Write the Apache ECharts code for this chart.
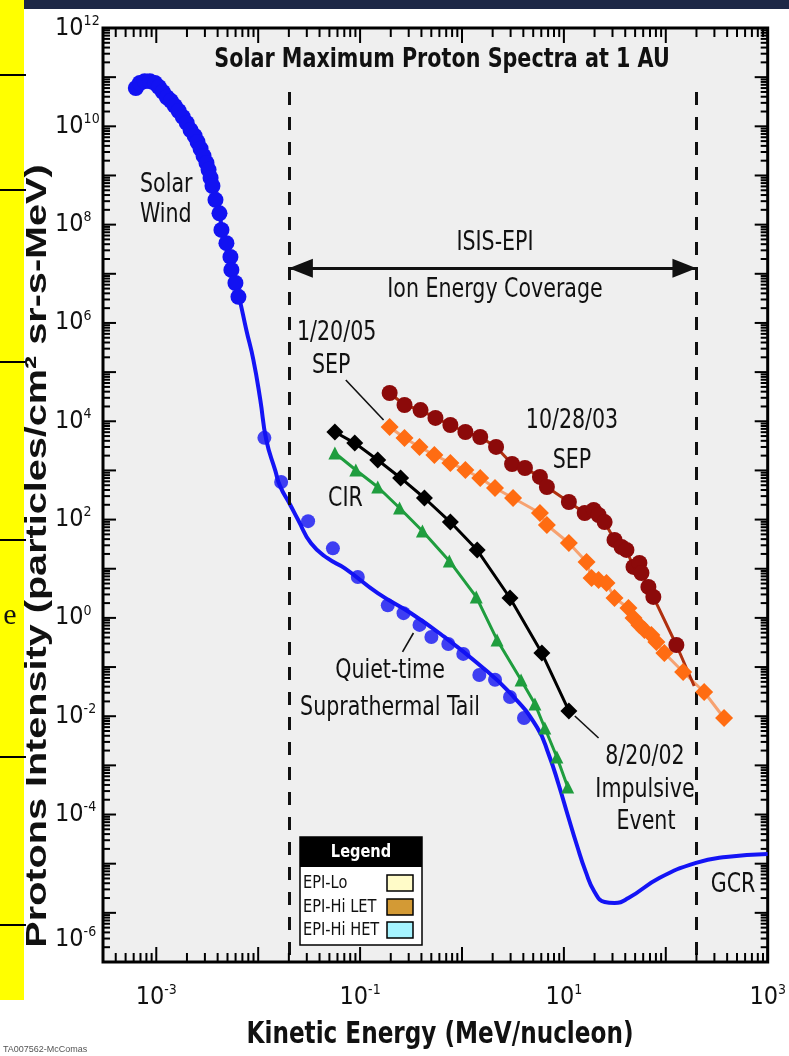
<!DOCTYPE html>
<html>
<head>
<meta charset="utf-8">
<script src="https://cdn.jsdelivr.net/npm/echarts@6/dist/echarts.min.js"></script>
<style>
  html, body { margin: 0; padding: 0; background: #ffffff; }
  #chart { width: 789px; height: 1056px; }
</style>
</head>
<body>
<div id="chart"></div>
<script>
// ---- Proton spectra at 1 AU (energy in MeV/nucleon, intensity in particles/cm2 sr s MeV) ----

// Solar wind bulk (blue dots)
const solarWindEnergy = [6.3e-4, 6.9e-4, 7.7e-4, 8.65e-4, 9.7e-4, 1.06e-3, 1.16e-3, 1.27e-3, 1.39e-3, 1.52e-3,
  1.66e-3, 1.82e-3, 1.99e-3, 2.17e-3, 2.38e-3, 2.54e-3, 2.72e-3, 2.91e-3, 3.11e-3, 3.26e-3,
  3.41e-3, 3.56e-3, 3.81e-3, 4.17e-3, 4.36e-3, 4.88e-3, 5.34e-3, 5.46e-3, 5.98e-3, 6.4e-3];
const solarWindFlux = [6.0e10, 7.6e10, 8.3e10, 8.3e10, 7.6e10, 6.3e10, 5.0e10, 3.9e10, 3.3e10, 2.6e10,
  2.05e10, 1.55e10, 1.17e10, 8.4e9, 6.4e9, 4.8e9, 3.5e9, 2.5e9, 1.8e9, 1.3e9,
  8.9e8, 6.1e8, 3.2e8, 1.7e8, 7.8e7, 4.2e7, 2.2e7, 1.2e7, 6.5e6, 3.4e6];

// Quiet-time suprathermal tail (blue dots)
const tailEnergy = [1.15e-2, 1.68e-2, 3.09e-2, 5.41e-2, 9.5e-2, 0.187, 0.267, 0.383, 0.501, 0.734, 1.03, 1.48, 2.11, 2.96, 4.06];
const tailFlux = [4.6e3, 5.8e2, 93, 26, 6.8, 1.8, 1.25, 0.72, 0.41, 0.295, 0.185, 0.069, 0.055, 0.0246, 0.0092];

// Quiet-time composite spectrum through to GCR (blue curve)
const quietEnergy = [6.3e-4, 8.07e-4, 1.13e-3, 1.55e-3, 2.07e-3, 2.6e-3, 3.11e-3, 3.56e-3, 3.99e-3, 4.46e-3,
  5.11e-3, 5.71e-3, 6.53e-3, 7.65e-3, 8.96e-3, 1.05e-2, 1.2e-2, 1.47e-2, 1.64e-2, 2.06e-2,
  2.47e-2, 3.3e-2, 4.83e-2, 7.09e-2, 0.149, 0.313, 0.672, 1.41, 2.96, 5.44,
  7.13, 8.91, 10.9, 13.4, 16.4, 20.0, 25.1, 31.4, 43.0, 86.3, 198, 390, 1000];
const quietFlux = [6.0e10, 8.3e10, 5.2e10, 2.6e10, 1.02e10, 4.6e9, 1.8e9, 6.1e8, 2.5e8, 7.8e7,
  2.4e7, 9.5e6, 3.2e6, 7.2e5, 1.8e5, 2.7e4, 4.2e3, 1.0e3, 4.8e2, 2.0e2,
  98, 33, 16.2, 10.2, 3.2, 1.26, 0.41, 0.121, 0.0297, 6.0e-3,
  1.63e-3, 3.99e-4, 9.8e-5, 2.4e-5, 6.8e-6, 2.66e-6, 1.66e-6, 1.59e-6, 2.0e-6, 5.1e-6, 1.04e-5, 1.37e-5, 1.58e-5];

// CIR (green triangles)
const cirEnergy = [0.0566, 0.0908, 0.149, 0.244, 0.409, 0.751, 1.38, 2.21, 3.80, 5.20, 6.50, 8.53, 10.9];
const cirFlux = [2.26e3, 1.02e3, 460, 172, 58.6, 14.4, 2.67, 0.356, 0.0546, 0.0177, 5.77e-3, 1.48e-3, 3.64e-4];

// 8/20/02 impulsive event (black diamonds)
const impulsiveEnergy = [0.0566, 0.0887, 0.149, 0.250, 0.428, 0.769, 1.41, 2.96, 6.08, 11.2];
const impulsiveFlux = [6.05e3, 3.6e3, 1.63e3, 702, 275, 89, 24, 2.54, 0.193, 0.0128];

// 1/20/05 SEP (orange diamonds)
const sep05Energy = [0.195, 0.273, 0.383, 0.536, 0.769, 1.08, 1.51, 2.11, 3.17, 5.82, 6.81, 11.2, 16.7, 18.7,
  21.9, 26.2, 31.4, 43.0, 48.2, 55.1, 61.7, 72.2, 80.8, 96.8, 148, 238, 373];
const sep05Flux = [7.66e3, 4.57e3, 3.0e3, 2.06e3, 1.42e3, 1.02e3, 702, 440, 275, 136, 77.6, 33.4, 13.7, 6.49,
  5.9, 5.13, 2.54, 1.59, 1.0, 0.718, 0.568, 0.449, 0.324, 0.193, 0.0794, 0.0311, 9.2e-3];

// 10/28/03 SEP (dark red circles); the last point closes the line without a marker
const sep03Energy = [0.195, 0.273, 0.392, 0.549, 0.769, 1.08, 1.51, 2.16, 3.10, 4.15, 5.82, 6.81, 11.2, 16.0,
  19.6, 21.9, 25.1, 31.4, 36.8, 41.1, 48.2, 55.1, 57.7, 67.5, 75.5, 127, 190];
const sep03Flux = [3.76e4, 2.14e4, 1.69e4, 1.17e4, 8.4e3, 6.05e3, 4.79e3, 3.0e3, 1.35e3, 1.12e3, 736, 460, 228, 136,
  157, 124, 89, 38.5, 27.7, 24.1, 10.9, 13.1, 8.2, 4.26, 2.67, 0.281, 0.0412];

// ISIS-EPI energy coverage limits and arrow height
const coverageLow = 0.02;
const coverageHigh = 200;
const coverageArrowFlux = 1.3e7;
const coverageDashTopFlux = 5e10;

// Axis ranges and labelled decades
const energyMin = 3e-4, energyMax = 1e3;
const fluxMin = 1e-7, fluxMax = 1e12;
const xLabelExponents = [-3, -1, 1, 3];
const yLabelExponents = [-6, -4, -2, 0, 2, 4, 6, 8, 10, 12];

// Leader lines [from, to] in data coordinates
const sepLeader = [[0.0724, 6.9e4], [0.170, 1.06e4]];
const quietLeader = [[0.261, 0.203], [0.334, 0.493]];
const impulsiveLeader = [[12.8, 0.0101], [21.9, 3.6e-3]];

const NARROW = "'Liberation Sans Narrow','Arial Narrow','DejaVu Sans Condensed',sans-serif";
const INK = '#111111';

const zip = (a, b) => a.map((v, i) => [v, b[i]]);

// log-axis decade and sub-decade tick values
function logTicks(lo, hi) {
  const out = [];
  for (let n = Math.floor(Math.log10(lo)); n <= Math.ceil(Math.log10(hi)); n++) {
    for (let k = 1; k <= 9; k++) {
      const v = Number((k * Math.pow(10, n)).toPrecision(6));
      if (v >= lo * 0.9999 && v <= hi * 1.0001) out.push({ v: v, major: k === 1 ? 1 : 0 });
    }
  }
  return out;
}

function tickSeries(ticks, isX) {
  return {
    type: 'custom',
    silent: true,
    z: 6,
    clip: false,
    data: ticks.map(t => isX ? [t.v, 1, t.major] : [1, t.v, t.major]),
    renderItem(params, api) {
      const cs = params.coordSys;
      const major = api.value(2) === 1;
      const st = { stroke: '#000', lineWidth: 2 };
      if (isX) {
        const x = api.coord([api.value(0), 1])[0];
        const len = major ? 15 : 9;
        const b = cs.y + cs.height, t = cs.y;
        return { type: 'group', children: [
          { type: 'line', shape: { x1: x, y1: b, x2: x, y2: b - len }, style: st },
          { type: 'line', shape: { x1: x, y1: t, x2: x, y2: t + len }, style: st }
        ] };
      }
      const y = api.coord([1, api.value(1)])[1];
      const len = major ? 13 : 7;
      const l = cs.x, r = cs.x + cs.width;
      return { type: 'group', children: [
        { type: 'line', shape: { x1: l, y1: y, x2: l + len, y2: y }, style: st },
        { type: 'line', shape: { x1: r, y1: y, x2: r - len, y2: y }, style: st }
      ] };
    }
  };
}

function isExp(v, list) {
  const e = Math.log10(v);
  const r = Math.round(e);
  return Math.abs(e - r) < 1e-6 && list.indexOf(r) >= 0 ? r : null;
}

const supRich = {
  b: { fontSize: 25, fontFamily: NARROW, color: INK, lineHeight: 28 },
  e: { fontSize: 14, fontFamily: NARROW, color: INK, verticalAlign: 'top', lineHeight: 14 },
  sp: { fontSize: 10, lineHeight: 54 }
};

function txt(text, x, y, size, opts) {
  opts = opts || {};
  return {
    type: 'text', x: x, y: y, z: 100, silent: true,
    rotation: opts.rotation || 0,
    scaleX: opts.scaleX || 1, scaleY: opts.scaleY || 1,
    style: {
      text: text,
      font: (opts.weight || 'normal') + ' ' + size + 'px ' + (opts.family || NARROW),
      fill: opts.fill || INK,
      textAlign: opts.align || 'center', align: opts.align || 'center',
      textVerticalAlign: 'middle', verticalAlign: 'middle'
    }
  };
}
// condensed annotation text
const note = (text, x, y, align) => txt(text, x, y, 26, { align: align, scaleX: 0.88 });

const lineEnd = (e, f) => ({ coord: [e, f] });
const leaderStyle = { type: 'solid', width: 1.6, color: '#111' };
const dashStyle = { type: [13, 12], width: 3, color: '#111' };
const arrowHead = { symbol: 'triangle', symbolSize: [19, 24], symbolOffset: [0, 12], itemStyle: { color: '#111' } };

const option = {
  animation: false,
  backgroundColor: '#ffffff',
  grid: {
    left: 103, top: 28, right: 17, bottom: 94,
    show: true, backgroundColor: '#efefef', borderColor: '#000', borderWidth: 3
  },
  xAxis: {
    type: 'log', logBase: 10, min: energyMin, max: energyMax,
    axisLine: { show: false }, axisTick: { show: false }, splitLine: { show: false },
    axisLabel: {
      margin: 21,
      showMinLabel: true, showMaxLabel: true,
      formatter: v => { const r = isExp(v, xLabelExponents); return r === null ? '' : '{b|10}{e|' + r + '}'; },
      rich: supRich
    }
  },
  yAxis: {
    type: 'log', logBase: 10, min: fluxMin, max: fluxMax, interval: 1,
    axisLine: { show: false }, axisTick: { show: false }, splitLine: { show: false },
    axisLabel: {
      margin: 48, align: 'left',
      showMinLabel: true, showMaxLabel: true,
      formatter: v => {
        const r = isExp(v, yLabelExponents);
        if (r === null) return '';
        // the lowest decade label sits just above the bottom frame
        return r === -6 ? '{sp| }\n{b|10}{e|' + r + '}' : '{b|10}{e|' + r + '}';
      },
      rich: supRich
    }
  },
  series: [
    tickSeries(logTicks(energyMin, energyMax), true),
    tickSeries(logTicks(fluxMin, fluxMax), false),
    {
      name: 'Quiet-time spectrum', type: 'line', data: zip(quietEnergy, quietFlux),
      showSymbol: false, smooth: 0.5, z: 3,
      lineStyle: { color: '#1414f5', width: 4 }
    },
    {
      name: 'Solar wind', type: 'scatter', data: zip(solarWindEnergy, solarWindFlux), z: 4,
      symbol: 'circle', symbolSize: 16, itemStyle: { color: '#1212f2', opacity: 1 },
      markLine: {
        silent: true, symbol: 'none', animation: false, label: { show: false },
        data: [
          [Object.assign(lineEnd(coverageLow, coverageDashTopFlux), { lineStyle: dashStyle }), lineEnd(coverageLow, fluxMin)],
          [Object.assign(lineEnd(coverageHigh, coverageDashTopFlux), { lineStyle: dashStyle }), lineEnd(coverageHigh, fluxMin)],
          [Object.assign(lineEnd(coverageLow, coverageArrowFlux), arrowHead, { lineStyle: { type: 'solid', width: 3, color: '#111' } }),
           Object.assign(lineEnd(coverageHigh, coverageArrowFlux), arrowHead)],
          [Object.assign(lineEnd(sepLeader[0][0], sepLeader[0][1]), { lineStyle: leaderStyle }), lineEnd(sepLeader[1][0], sepLeader[1][1])],
          [Object.assign(lineEnd(quietLeader[0][0], quietLeader[0][1]), { lineStyle: leaderStyle }), lineEnd(quietLeader[1][0], quietLeader[1][1])],
          [Object.assign(lineEnd(impulsiveLeader[0][0], impulsiveLeader[0][1]), { lineStyle: leaderStyle }), lineEnd(impulsiveLeader[1][0], impulsiveLeader[1][1])]
        ]
      }
    },
    {
      name: 'Suprathermal tail', type: 'scatter', data: zip(tailEnergy, tailFlux), z: 4,
      symbol: 'circle', symbolSize: 14, itemStyle: { color: '#1212f2' }
    },
    {
      name: 'CIR', type: 'line', data: zip(cirEnergy, cirFlux), z: 5,
      symbol: 'triangle', symbolSize: 13, showAllSymbol: true,
      lineStyle: { color: '#1f9d3e', width: 3 }, itemStyle: { color: '#1f9d3e' }
    },
    {
      name: '8/20/02 Impulsive Event', type: 'line', data: zip(impulsiveEnergy, impulsiveFlux), z: 5,
      symbol: 'diamond', symbolSize: 17, showAllSymbol: true,
      lineStyle: { color: '#000', width: 3 }, itemStyle: { color: '#000' }
    },
    {
      name: '1/20/05 SEP', type: 'line', data: zip(sep05Energy, sep05Flux), z: 5,
      symbol: 'diamond', symbolSize: 18, showAllSymbol: true,
      lineStyle: { color: '#f6a271', width: 3 }, itemStyle: { color: '#ff6c12' }
    },
    {
      name: '10/28/03 SEP', type: 'line', z: 5,
      data: sep03Energy.map((e, i) => i === sep03Energy.length - 1
        ? { value: [e, sep03Flux[i]], symbol: 'none' }
        : [e, sep03Flux[i]]),
      symbol: 'circle', symbolSize: 16, showAllSymbol: true,
      lineStyle: { color: '#b0300f', width: 3 }, itemStyle: { color: '#8c0a0a' }
    }
  ],
  graphic: [
    // slide remnants around the figure
    { type: 'rect', shape: { x: 0, y: 0, width: 24, height: 1000 }, style: { fill: '#ffff00' }, z: 1 },
    { type: 'rect', shape: { x: 24, y: 0, width: 765, height: 9 }, style: { fill: '#1d2846' }, z: 1 },
    ...[75, 190, 362, 540, 757, 925].map(y => ({ type: 'rect', shape: { x: 0, y: y - 1, width: 26, height: 2 }, style: { fill: '#000' }, z: 2 })),
    txt('e', 10, 616, 30, { family: "'Liberation Serif',serif" }),
    txt('TA007562-McComas', 3, 1050, 9, { align: 'left', family: "'Liberation Sans',sans-serif", fill: '#555' }),

    // titles
    txt('Solar Maximum Proton Spectra at 1 AU', 442, 60, 26, { weight: 'bold', scaleX: 0.885 }),
    txt('Kinetic Energy (MeV/nucleon)', 440, 1035, 31, { weight: 'bold', scaleX: 0.83 }),
    txt('Protons Intensity (particles/cm\u00b2 sr-s-MeV)', 38, 556, 30,
      { weight: 'bold', rotation: Math.PI / 2, scaleX: 1.32, family: "'Liberation Sans',Arial,sans-serif" }),

    // annotations
    note('Solar', 140, 185, 'left'),
    note('Wind', 140, 215, 'left'),
    note('ISIS-EPI', 495, 243),
    note('Ion Energy Coverage', 495, 290),
    note('1/20/05', 297, 333, 'left'),
    note('SEP', 312, 366, 'left'),
    note('10/28/03', 572, 421),
    note('SEP', 572, 461),
    note('CIR', 328, 499, 'left'),
    note('Quiet-time', 390, 671),
    note('Suprathermal Tail', 390, 708),
    note('8/20/02', 645, 757),
    note('Impulsive', 645, 790),
    note('Event', 646, 822),
    note('GCR', 733, 885),

    // instrument legend
    { type: 'rect', z: 90, shape: { x: 300, y: 837, width: 122, height: 108 }, style: { fill: '#fff', stroke: '#000', lineWidth: 1.5 } },
    { type: 'rect', z: 91, shape: { x: 300, y: 837, width: 122, height: 30 }, style: { fill: '#000' } },
    txt('Legend', 361, 852, 18, { weight: 'bold', fill: '#fff', scaleX: 0.9 }),
    txt('EPI-Lo', 303, 883, 18, { align: 'left', scaleX: 0.9 }),
    txt('EPI-Hi LET', 303, 907, 18, { align: 'left', scaleX: 0.9 }),
    txt('EPI-Hi HET', 303, 930, 18, { align: 'left', scaleX: 0.9 }),
    { type: 'rect', z: 95, shape: { x: 387, y: 875, width: 26, height: 16 }, style: { fill: '#fffbc8', stroke: '#000', lineWidth: 1.5 } },
    { type: 'rect', z: 95, shape: { x: 387, y: 899, width: 26, height: 16 }, style: { fill: '#d39a35', stroke: '#000', lineWidth: 1.5 } },
    { type: 'rect', z: 95, shape: { x: 387, y: 922, width: 26, height: 16 }, style: { fill: '#a6f4ff', stroke: '#000', lineWidth: 1.5 } }
  ]
};

const chart = echarts.init(document.getElementById('chart'), null, { renderer: 'canvas', width: 789, height: 1056 });
chart.setOption(option);
</script>
</body>
</html>
